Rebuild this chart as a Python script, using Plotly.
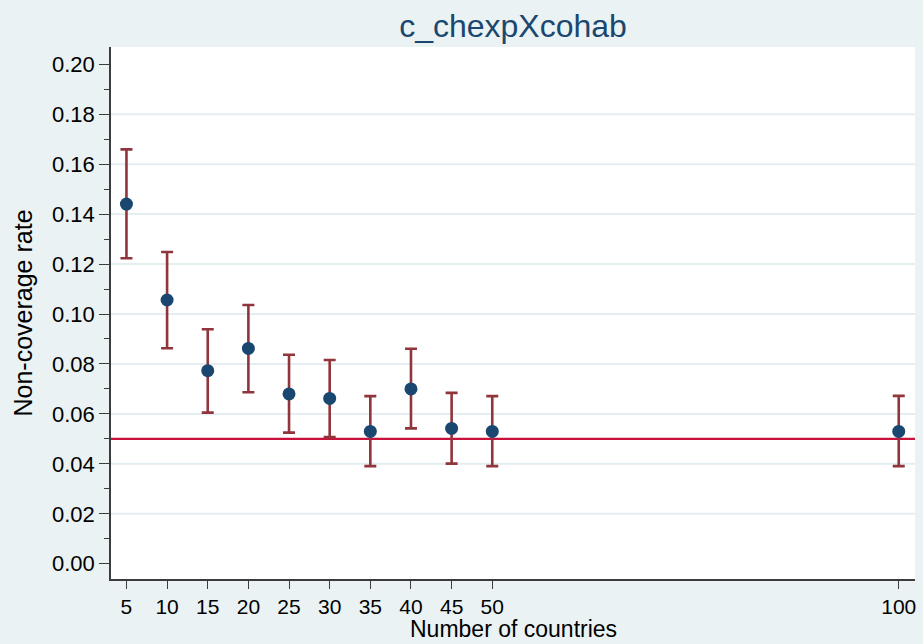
import plotly.graph_objects as go

# Simulation results: non-coverage rate by number of countries
countries = [5, 10, 15, 20, 25, 30, 35, 40, 45, 50, 100]
rate = [0.144, 0.1056, 0.0773, 0.0862, 0.068, 0.0662, 0.053, 0.070, 0.0542, 0.053, 0.053]
ci_low = [0.1223, 0.0863, 0.0605, 0.0687, 0.0525, 0.0507, 0.0391, 0.0542, 0.0401, 0.0391, 0.0391]
ci_high = [0.1659, 0.1248, 0.0939, 0.1036, 0.0837, 0.0816, 0.0671, 0.0861, 0.0684, 0.0671, 0.0672]
nominal = 0.05

x_ticks = [5, 10, 15, 20, 25, 30, 35, 40, 45, 50, 100]
y_ticks = [0.00, 0.02, 0.04, 0.06, 0.08, 0.10, 0.12, 0.14, 0.16, 0.18, 0.20]

BG = "#EAF2F3"
NAVY = "#1A476F"
MAROON = "#90353B"
RED = "#C8103A"
AXIS = "#3C3C3C"
FONT = "Liberation Sans, Arial, sans-serif"

err_plus = [h - r for h, r in zip(ci_high, rate)]
err_minus = [r - l for r, l in zip(rate, ci_low)]

fig = go.Figure()

fig.add_trace(go.Scatter(
    x=countries, y=rate, mode="markers",
    marker=dict(color=NAVY, size=13, line=dict(width=0)),
    error_y=dict(type="data", symmetric=False, array=err_plus, arrayminus=err_minus,
                 color=MAROON, thickness=2.6, width=6),
    showlegend=False, hoverinfo="x+y",
))

# interior gridlines
shapes = []
for v in y_ticks[1:-1]:
    shapes.append(dict(type="line", xref="paper", x0=0, x1=1, yref="y", y0=v, y1=v,
                       line=dict(color="#E4EDEF", width=2), layer="below"))
# nominal 5% reference line
shapes.append(dict(type="line", xref="paper", x0=0, x1=1, yref="y", y0=nominal, y1=nominal,
                   line=dict(color=RED, width=2.3), layer="below"))

fig.update_layout(
    width=923, height=644,
    margin=dict(l=111, r=8, t=47, b=65),
    paper_bgcolor=BG, plot_bgcolor="white",
    shapes=shapes,
    title=dict(text="c_chexpXcohab", x=(111 + 915) / 2 / 923, xanchor="center",
               y=1 - 26 / 644, yanchor="middle",
               font=dict(family=FONT, size=32, color=NAVY)),
    xaxis=dict(
        range=[3.1, 102], tickmode="array", tickvals=x_ticks, ticktext=[str(t) for t in x_ticks],
        showgrid=False, zeroline=False, showline=True, linecolor=AXIS, linewidth=1.5,
        ticks="outside", ticklen=8, tickwidth=1.3, tickcolor=AXIS, automargin=False,
        tickfont=dict(family=FONT, size=21, color="black"),
    ),
    yaxis=dict(
        range=[-0.0061, 0.2069], tickmode="array", tickvals=y_ticks,
        ticktext=[f"{v:.2f}" for v in y_ticks],
        showgrid=False, zeroline=False, showline=True, linecolor=AXIS, linewidth=1.5,
        ticks="outside", ticklen=10, tickwidth=1.3, tickcolor=AXIS, automargin=False,
        minor=dict(tickvals=[0.01, 0.03, 0.05, 0.07, 0.09, 0.11, 0.13, 0.15, 0.17, 0.19],
                   ticks="outside", ticklen=5, tickwidth=1.3, tickcolor=AXIS, showgrid=False),
        tickfont=dict(family=FONT, size=22, color="black"),
        title=dict(text="Non-coverage rate", standoff=12,
                   font=dict(family=FONT, size=25, color="black")),
    ),
    annotations=[dict(text="Number of countries", xref="paper", yref="paper",
                      x=0.5, y=(579 - 643) / 532, xanchor="center", yanchor="bottom",
                      showarrow=False, borderpad=0,
                      font=dict(family=FONT, size=23, color="black"))],
)

fig.write_html("out.html")
